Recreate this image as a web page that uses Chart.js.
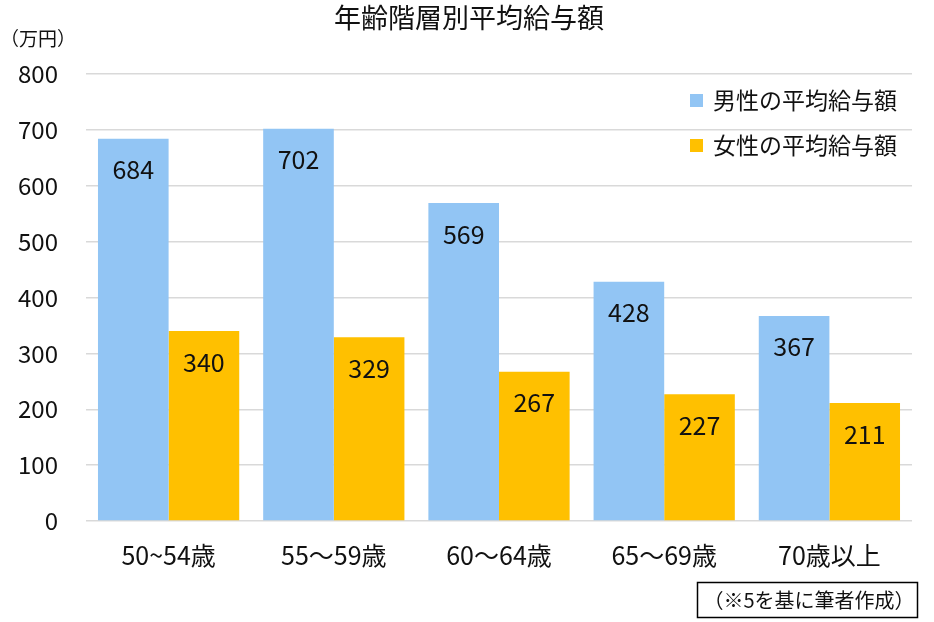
<!DOCTYPE html>
<html><head><meta charset="utf-8">
<script src="https://cdn.jsdelivr.net/npm/chart.js@4/dist/chart.umd.min.js"></script>
<style>html,body{margin:0;padding:0;background:#fff}#wrap{width:934px;height:622px}</style>
</head><body><div id="wrap"><canvas id="c" width="934" height="622"></canvas></div>
<script>
const categories = ["50~54歳", "55～59歳", "60～64歳", "65～69歳", "70歳以上"];
const maleValues = [684, 702, 569, 428, 367];
const femaleValues = [340, 329, 267, 227, 211];
const seriesNames = ["男性の平均給与額", "女性の平均給与額"];
const yTicks = [0, 100, 200, 300, 400, 500, 600, 700, 800];
const titleText = "年齢階層別平均給与額";
const unitText = "（万円）";
const sourceText = "（※5を基に筆者作成）";

const FONT = "'Noto Sans CJK JP', 'Noto Sans', sans-serif";
const colors = ["#92C5F4", "#FFC000"];

const extras = {
  id: 'extras',
  afterDatasetsDraw(chart) {
    const ctx = chart.ctx;
    ctx.save();
    ctx.fillStyle = '#111';
    ctx.font = "25px " + FONT;
    ctx.textAlign = 'center';
    ctx.textBaseline = 'middle';
    chart.data.datasets.forEach((ds, i) => {
      chart.getDatasetMeta(i).data.forEach((bar, j) => {
        ctx.fillText(String(ds.data[j]), bar.x, bar.y + 31);
      });
    });
    ctx.restore();
  },
  afterDraw(chart) {
    const ctx = chart.ctx;
    ctx.save();
    ctx.fillStyle = '#111';
    ctx.textBaseline = 'middle';
    ctx.font = "27px " + FONT;
    ctx.textAlign = 'center';
    ctx.fillText(titleText, 469, 18);
    ctx.font = "19px " + FONT;
    ctx.textAlign = 'left';
    ctx.fillText(unitText, 0, 39);
    ctx.font = "23px " + FONT;
    seriesNames.forEach((n, i) => {
      const cy = 100 + i * 45;
      ctx.fillStyle = colors[i];
      ctx.fillRect(690, cy - 6, 13, 13);
      ctx.fillStyle = '#111';
      ctx.fillText(n, 713, cy);
    });
    ctx.strokeStyle = '#000';
    ctx.lineWidth = 1.5;
    ctx.strokeRect(697.5, 582.5, 220, 35);
    ctx.font = "20px " + FONT;
    ctx.textAlign = 'center';
    ctx.fillText(sourceText, 809, 600);
    ctx.restore();
  }
};

new Chart(document.getElementById('c'), {
  type: 'bar',
  data: {
    labels: categories,
    datasets: [
      { label: seriesNames[0], data: maleValues, backgroundColor: colors[0], categoryPercentage: 0.855, barPercentage: 1.0 },
      { label: seriesNames[1], data: femaleValues, backgroundColor: colors[1], categoryPercentage: 0.855, barPercentage: 1.0 }
    ]
  },
  options: {
    responsive: false,
    animation: false,
    devicePixelRatio: 1,
    layout: { padding: { top: 74, right: 22, bottom: 0, left: 0 } },
    plugins: { legend: { display: false }, title: { display: false }, tooltip: { enabled: false } },
    scales: {
      x: {
        grid: { display: false, drawTicks: false },
        border: { display: false },
        ticks: { color: '#111', font: { family: FONT, size: 25 }, padding: 19, maxRotation: 0, autoSkip: false },
        afterFit(s) { s.height = 101; }
      },
      y: {
        min: 0, max: 800,
        afterBuildTicks(s) { s.ticks = yTicks.map(v => ({ value: v })); },
        grid: { color: '#d9d9d9', lineWidth: 1.5, drawTicks: false },
        border: { display: false },
        ticks: { color: '#111', font: { family: FONT, size: 24 }, padding: 28 },
        afterFit(s) { s.width = 86; }
      }
    }
  },
  plugins: [extras]
});
</script></body></html>
